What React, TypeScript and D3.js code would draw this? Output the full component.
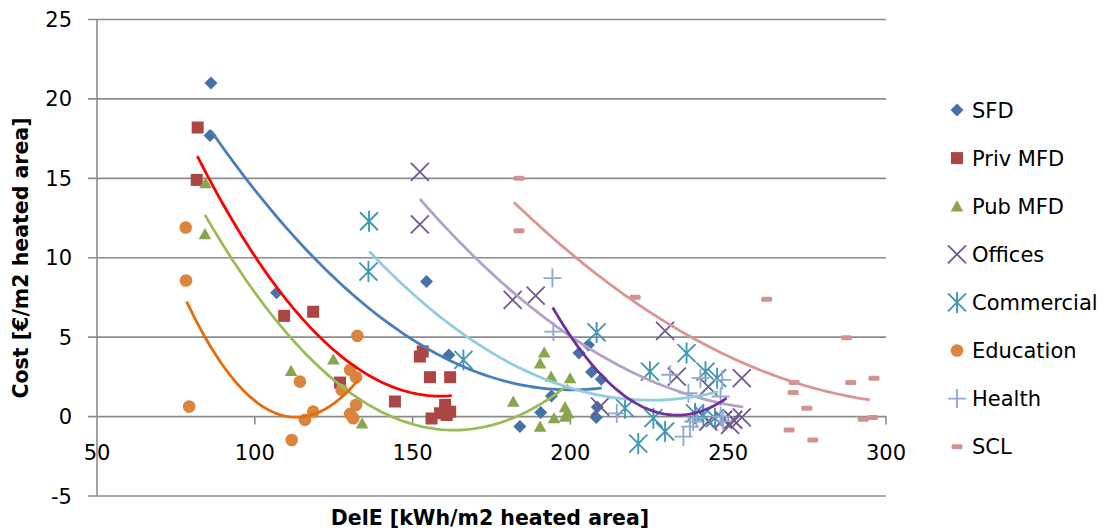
import React from "react";
import * as d3 from "d3";

type Pt = [number, number];

const sfd: Pt[] = [[86.1,21.0],[85.8,17.7],[106.9,7.8],[154.4,8.5],[161.5,3.88],[184.0,-0.63],[190.6,0.25],[194.0,1.3],[202.7,4.0],[205.7,4.5],[206.7,2.8],[209.8,2.35],[208.5,0.6],[208.2,-0.05]];
const privMfd: Pt[] = [[81.9,18.2],[81.6,14.9],[109.3,6.34],[118.5,6.6],[127.0,2.14],[144.4,0.95],[153.2,4.1],[152.3,3.78],[155.5,2.48],[161.9,2.48],[160.3,0.74],[158.7,0.21],[160.8,0.1],[156.0,-0.12],[161.9,0.31]];
const pubMfd: Pt[] = [[84.4,14.7],[84.2,11.5],[111.5,2.88],[124.9,3.6],[134.0,-0.42],[181.9,0.95],[191.7,4.05],[190.4,3.36],[193.9,2.52],[199.9,2.42],[190.4,-0.63],[194.8,-0.1],[198.3,0.6],[198.3,0.0],[199.3,0.2]];
const offices: Pt[] = [[152.3,15.4],[152.3,12.1],[181.7,7.35],[189.0,7.62],[230.0,5.4],[233.7,2.52],[254.3,2.42],[243.7,1.89],[209.4,0.63],[243.7,-0.31],[248.4,-0.2],[251.6,-0.2],[254.3,-0.05],[250.6,-0.52]];
const commercial: Pt[] = [[136.2,12.3],[136.0,9.13],[166.1,3.57],[208.3,5.3],[225.2,2.83],[236.8,4.0],[242.8,2.83],[246.5,2.42],[217.3,0.53],[226.3,-0.1],[230.0,-0.94],[221.5,-1.7],[242.1,0.1],[245.8,-0.1],[239.5,0.2]];
const education: Pt[] = [[78.1,11.9],[78.2,8.57],[79.2,0.63],[111.7,-1.47],[114.3,2.2],[115.9,-0.21],[118.5,0.31],[132.5,5.08],[130.2,2.94],[132.1,2.48],[127.5,1.68],[132.1,0.74],[130.2,0.17],[131.2,-0.1]];
const health: Pt[] = [[194.3,8.72],[194.6,5.35],[231.6,2.63],[237.4,1.47],[241.2,2.42],[248.1,2.31],[247.6,1.26],[214.7,0.2],[235.8,-1.26],[237.9,-0.63],[238.9,-0.31],[240.0,-0.1],[247.6,0.0],[248.4,-0.3]];
const scl: Pt[] = [[183.7,15.0],[183.7,11.7],[220.5,7.52],[262.2,7.39],[287.5,4.97],[270.9,2.14],[270.6,1.51],[274.9,0.53],[269.3,-0.84],[276.8,-1.47],[288.8,2.14],[296.2,2.42],[292.8,-0.17],[295.7,-0.06]];

// Polynomial (order 2) trend lines: start, middle and end points
const trendSfd: Pt[] = [[86.1,18.0],[148,5.1],[209.9,1.8]];
const trendPriv: Pt[] = [[81.8,16.4],[122.1,4.72],[162.4,1.32]];
const trendPub: Pt[] = [[84.2,12.7],[160.8,-0.84],[199.3,2.0]];
const trendOffices: Pt[] = [[152.3,13.7],[203.5,4.6],[254.8,0.6]];
const trendCommercial: Pt[] = [[136.3,10.4],[168.7,4.83],[246.9,1.57]];
const trendEducation: Pt[] = [[78.4,7.24],[113.3,-0.04],[132.8,2.31]];
const trendHealth: Pt[] = [[194.4,6.87],[232.6,0.1],[249.5,1.16]];
const trendScl: Pt[] = [[182.1,13.5],[238.5,4.98],[294.9,1.05]];

const xTicks = [50, 100, 150, 200, 250, 300];
const yTicks = [-5, 0, 5, 10, 15, 20, 25];
const seriesNames = ["SFD", "Priv MFD", "Pub MFD", "Offices", "Commercial", "Education", "Health", "SCL"];

const W = 1107, H = 531;
const x = d3.scaleLinear().domain([50, 300]).range([97, 886]);
const y = d3.scaleLinear().domain([-5, 25]).range([496, 19.5]);

const FONT = "'DejaVu Sans', sans-serif";
const GRID = "#8c8c8c";

type Shape = "diamond" | "square" | "triangle" | "x" | "asterisk" | "circle" | "plus" | "dash";

function Marker({ shape, color, cx, cy }: { shape: Shape; color: string; cx: number; cy: number }) {
  const t = `translate(${cx},${cy})`;
  switch (shape) {
    case "diamond":
      return <path transform={t} d="M0,-6.5L6.5,0L0,6.5L-6.5,0Z" fill={color} />;
    case "square":
      return <rect transform={t} x={-6} y={-6} width={12} height={12} fill={color} />;
    case "triangle":
      return <path transform={t} d="M0,-6L6.3,5.2L-6.3,5.2Z" fill={color} />;
    case "circle":
      return <circle cx={cx} cy={cy} r={6.3} fill={color} />;
    case "x":
      return <path transform={t} d="M-9,-9L9,9M9,-9L-9,9" stroke={color} strokeWidth={1.8} fill="none" />;
    case "asterisk":
      return <path transform={t} d="M-9,-9L9,9M9,-9L-9,9M0,-10.5L0,10.5" stroke={color} strokeWidth={1.9} fill="none" />;
    case "plus":
      return <path transform={t} d="M-9,0L9,0M0,-9.5L0,9.5" stroke={color} strokeWidth={1.9} fill="none" />;
    case "dash":
      return <rect transform={t} x={-5.5} y={-2.5} width={11} height={5} rx={1.5} fill={color} />;
  }
}

function quadThrough(p: Pt[]) {
  const [[x0, y0], [x1, y1], [x2, y2]] = p;
  return (v: number) =>
    y0 * ((v - x1) * (v - x2)) / ((x0 - x1) * (x0 - x2)) +
    y1 * ((v - x0) * (v - x2)) / ((x1 - x0) * (x1 - x2)) +
    y2 * ((v - x0) * (v - x1)) / ((x2 - x0) * (x2 - x1));
}

const line = d3.line<Pt>().x((d) => x(d[0])).y((d) => y(d[1])).curve(d3.curveLinear);

function trendPath(p: Pt[]) {
  const f = quadThrough(p);
  const xs = d3.range(0, 81).map((i) => p[0][0] + ((p[2][0] - p[0][0]) * i) / 80);
  return line(xs.map((v) => [v, f(v)] as Pt)) || "";
}

const series = [
  { data: sfd, shape: "diamond" as Shape, color: "#4572A7", trend: trendSfd, tcolor: "#4A7EBB" },
  { data: privMfd, shape: "square" as Shape, color: "#AA4643", trend: trendPriv, tcolor: "#FF0000" },
  { data: pubMfd, shape: "triangle" as Shape, color: "#89A54E", trend: trendPub, tcolor: "#9BBB59" },
  { data: offices, shape: "x" as Shape, color: "#71588F", trend: trendOffices, tcolor: "#B3A2C7" },
  { data: commercial, shape: "asterisk" as Shape, color: "#4198AF", trend: trendCommercial, tcolor: "#93CDDD" },
  { data: education, shape: "circle" as Shape, color: "#DB843D", trend: trendEducation, tcolor: "#E46C0A" },
  { data: health, shape: "plus" as Shape, color: "#93A9CF", trend: trendHealth, tcolor: "#7030A0" },
  { data: scl, shape: "dash" as Shape, color: "#D19392", trend: trendScl, tcolor: "#D99694" },
];

export default function App() {
  const legendY0 = 110;
  const legendStep = 48.1;
  return (
    <svg width={W} height={H} style={{ position: "absolute", left: 0, top: 0, background: "#fff" }} fontFamily={FONT}>
      {/* gridlines */}
      {yTicks.map((t) => (
        <line key={"g" + t} x1={88} x2={x(300)} y1={y(t)} y2={y(t)} stroke={GRID} strokeWidth={1.6} />
      ))}
      {/* left axis */}
      <line x1={x(50)} x2={x(50)} y1={y(25)} y2={y(-5)} stroke={GRID} strokeWidth={1.6} />
      {/* x ticks on zero line */}
      {xTicks.slice(1).map((t) => (
        <line key={"xt" + t} x1={x(t)} x2={x(t)} y1={y(0)} y2={y(0) + 8} stroke={GRID} strokeWidth={1.6} />
      ))}
      {/* y tick labels */}
      {yTicks.map((t) => (
        <text key={"yl" + t} x={72} y={y(t)} dy="0.36em" textAnchor="end" fontSize={21} fill="#000">
          {t}
        </text>
      ))}
      {/* x tick labels */}
      {xTicks.map((t) => (
        <text key={"xl" + t} x={x(t)} y={452} dy="0.36em" textAnchor="middle" fontSize={21} fill="#000">
          {t}
        </text>
      ))}
      {/* markers */}
      {series.map((s, i) => (
        <g key={"s" + i}>
          {s.data.map((d, j) => (
            <Marker key={j} shape={s.shape} color={s.color} cx={x(d[0])} cy={y(d[1])} />
          ))}
        </g>
      ))}
      {/* trend lines */}
      {series.map((s, i) => (
        <path key={"t" + i} d={trendPath(s.trend)} fill="none" stroke={s.tcolor} strokeWidth={2.8} />
      ))}
      {/* axis titles */}
      <text x={490} y={518} dy="0.36em" textAnchor="middle" fontSize={20.5} fontWeight="bold" fill="#000">
        DelE [kWh/m2 heated area]
      </text>
      <text transform={`translate(21,258) rotate(-90)`} dy="0.36em" textAnchor="middle" fontSize={20.5} fontWeight="bold" fill="#000">
        Cost [€/m2 heated area]
      </text>
      {/* legend */}
      {series.map((s, i) => (
        <g key={"l" + i}>
          <Marker shape={s.shape} color={s.color} cx={957} cy={legendY0 + i * legendStep} />
          <text x={972} y={legendY0 + i * legendStep} dy="0.36em" fontSize={21} fill="#000">
            {seriesNames[i]}
          </text>
        </g>
      ))}
    </svg>
  );
}
